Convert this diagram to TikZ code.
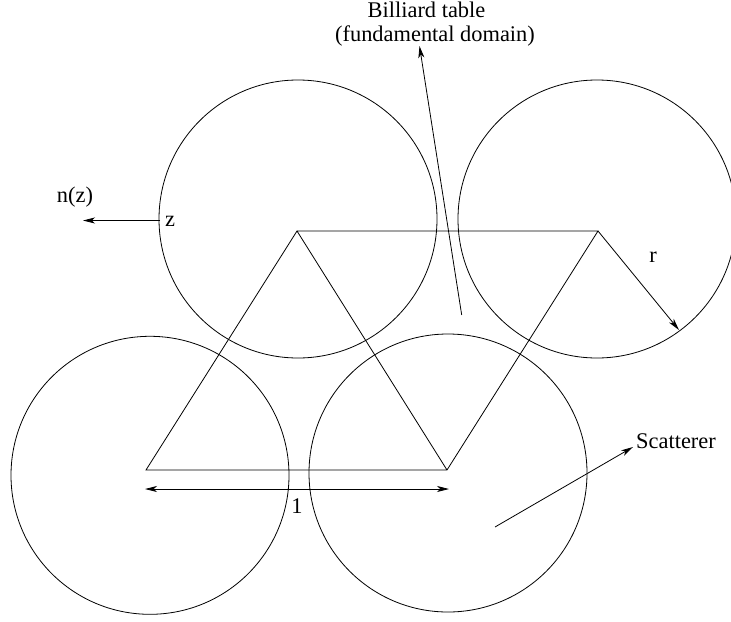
\documentclass[tikz,border=0pt]{standalone}
\usepackage{fontspec}
\setmainfont{Liberation Serif}
\usepackage{tikz}
\usetikzlibrary{arrows.meta}
\newdimen\pxu
\pxu=0.75pt
\tikzset{
	scatterer/.style={circle,draw,minimum size=278\pxu,inner sep=0pt},
	lbl/.style={inner sep=0pt,font=\fontsize{16.8}{18}\selectfont},
}
\begin{document}
\begin{tikzpicture}[x=0.75pt,y=-0.75pt,line width=0.6pt,>={Stealth[length=9pt,width=4.5pt,inset=2.5pt]}]
		\useasboundingbox (0,0) rectangle (731,621);
		\node[scatterer] (S1) at (298,219) {};
		\node[scatterer] (S2) at (597,219) {};
		\node[scatterer] (S3) at (150,475.3) {};
		\node[scatterer] (S4) at (448,473) {};
		%
		\coordinate (A) at (297,231);
		\coordinate (B) at (598,231);
		\coordinate (C) at (146,470);
		\coordinate (D) at (447,470);
		\draw (A) -- (B) -- (D) -- (C) -- (A) -- (D);
		%
		\node[lbl,anchor=base] (table) at (426.5,17.5) {Billiard table};
		\node[lbl,anchor=base] (domain) at (435,41.5) {(fundamental domain)};
		\node[lbl] (nz) at (75,197) {n(z)};
		\node[lbl] (z) at (170,221) {z};
		\node[lbl] (r) at (653,257) {r};
		\node[lbl] (one) at (297,506) {1};
		\node[lbl] (scat) at (676,441) {Scatterer};
		%
		\coordinate (T0) at (461.7,315);
		\coordinate (T1) at (419.5,46);
		\coordinate (N0) at (160,220.5);
		\coordinate (N1) at (83,220.5);
		\coordinate (R1) at (679,330);
		\coordinate (L0) at (145,489);
		\coordinate (L1) at (449,489);
		\coordinate (C0) at (495,527);
		\coordinate (C1) at (633,447);
		%
		\path[->]
		(T0) edge (T1)
		(N0) edge (N1)
		(B) edge (R1)
		(C0) edge (C1)
		(L0) edge[<->] (L1);
		\end{tikzpicture}
\end{document}
